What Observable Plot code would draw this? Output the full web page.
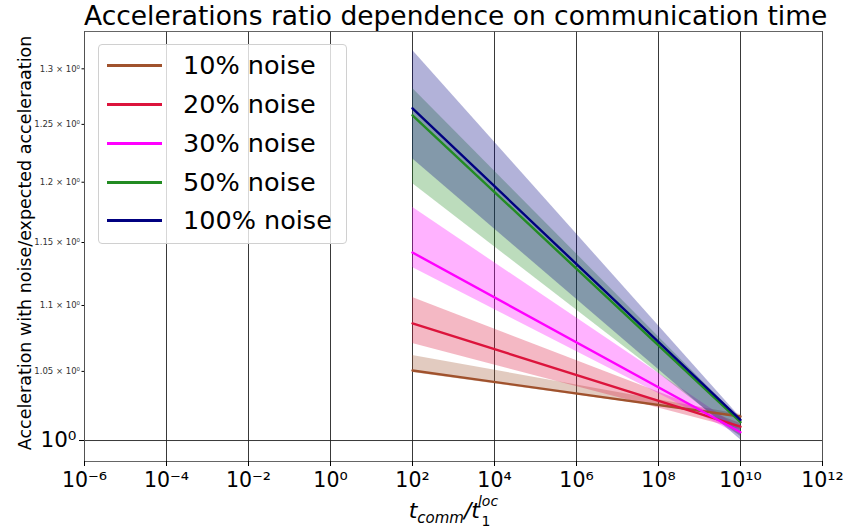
<!DOCTYPE html>
<html><head><meta charset="utf-8">
<script src="https://cdn.jsdelivr.net/npm/d3@7"></script>
<script src="https://cdn.jsdelivr.net/npm/@observablehq/plot@0.6"></script>
<style>
body{margin:0;background:#fff;font-family:"DejaVu Sans",sans-serif}
#wrap{position:relative;width:849px;height:529px;overflow:hidden}
#title{position:absolute;left:84px;width:738px;top:0;text-align:center;font-size:26.5px;line-height:32px;color:#000;white-space:nowrap}
#legend{position:absolute;left:98px;top:44px;width:249px;height:200px;border:1px solid #d0d0d0;border-radius:4px;background:rgba(255,255,255,0.8);box-sizing:border-box}
.lrow{position:absolute;left:0;height:30px}
.lline{position:absolute;left:8px;top:14px;width:55px;height:2.6px}
.ltext{position:absolute;left:84px;top:0;font-size:25.5px;line-height:30px;white-space:nowrap;color:#000}
</style>
</head><body><div id="wrap"><div id="chart"></div><div id="title"></div><div id="legend"></div></div>
<script>
const noiseLevels = ["10% noise", "20% noise", "30% noise", "50% noise", "100% noise"];
const lineColors = ["#a0522d", "#dc143c", "#ff00ff", "#228b22", "#000080"];
const commTimes = [1e2, 1e10];
const mean10 = [1.0507, 1.0171], low10 = [1.0492, 1.0164], high10 = [1.0619, 1.0185];
const mean20 = [1.0862, 1.0099], low20 = [1.0709, 1.0078], high20 = [1.1062, 1.0121];
const mean30 = [1.1419, 1.0059], low30 = [1.1298, 1.0035], high30 = [1.1789, 1.0085];
const mean50 = [1.2580, 1.0130], low50 = [1.1989, 1.0028], high50 = [1.2822, 1.0150];
const mean100 = [1.2642, 1.0147], low100 = [1.2201, 1.0005], high100 = [1.3171, 1.0164];
const xTicks = [1e-6, 1e-4, 1e-2, 1, 1e2, 1e4, 1e6, 1e8, 1e10, 1e12];
const yMinorTicks = [1.05, 1.1, 1.15, 1.2, 1.25, 1.3];
const yMajorTicks = [1];
const titleText = "Accelerations ratio dependence on communication time";
const yLabelText = "Acceleration with noise/expected acceleraation";

const means = [mean10, mean20, mean30, mean50, mean100];
const lows = [low10, low20, low30, low50, low100];
const highs = [high10, high20, high30, high50, high100];
const rows = [];
noiseLevels.forEach((n, i) => commTimes.forEach((t, j) => rows.push({noise: n, t, mean: means[i][j], low: lows[i][j], high: highs[i][j]})));

const supMap = {"-": "⁻", "0": "⁰", "1": "¹", "2": "²", "3": "³", "4": "⁴", "5": "⁵", "6": "⁶", "7": "⁷", "8": "⁸", "9": "⁹"};
const pow10 = d => "10" + String(Math.round(Math.log10(d))).split("").map(c => supMap[c]).join("");

const svg = Plot.plot({
  width: 849, height: 529,
  marginLeft: 84, marginRight: 27, marginTop: 31, marginBottom: 68,
  style: {fontFamily: "DejaVu Sans", background: "white", color: "#000", overflow: "visible"},
  x: {type: "log", domain: [1e-6, 1e12], label: null},
  y: {type: "log", domain: [0.9853, 1.3347], label: null},
  color: {domain: noiseLevels, range: lineColors},
  marks: [
    Plot.ruleX(xTicks, {stroke: "#222", strokeWidth: 0.9}),
    Plot.ruleY(yMajorTicks, {stroke: "#222", strokeWidth: 0.9}),
    Plot.areaY(rows, {x: "t", y1: "low", y2: "high", z: "noise", fill: "noise", fillOpacity: 0.3}),
    Plot.line(rows, {x: "t", y: "mean", z: "noise", stroke: "noise", strokeWidth: 2.4}),
    Plot.frame({stroke: "#555", strokeWidth: 0.9}),
    Plot.axisX(xTicks, {tickFormat: pow10, fontSize: 20.5, tickSize: 5, tickPadding: 6, label: null}),
    Plot.axisY(yMajorTicks, {tickFormat: () => "10⁰", fontSize: 21.5, tickSize: 5, tickPadding: 3, label: null}),
    Plot.axisY(yMinorTicks, {tickFormat: d => `${d} × 10⁰`, fontSize: 8.5, tickSize: 2.5, tickPadding: 2, label: null, fill: "#333"})
  ]
});
document.getElementById("chart").appendChild(svg);

const s = d3.select(svg);
s.append("text")
  .attr("transform", "translate(31,243) rotate(-90)")
  .attr("text-anchor", "middle")
  .attr("font-size", 17.5)
  .attr("fill", "#000")
  .text(yLabelText);

const xl = s.append("text").attr("x", 480).attr("y", 518).attr("text-anchor", "end")
  .attr("font-size", 22).attr("fill", "#000").attr("font-style", "italic");
xl.append("tspan").text("t");
xl.append("tspan").attr("font-size", 15).attr("dy", 5).text("comm");
xl.append("tspan").attr("dy", -5).text("/t");
s.append("text").attr("x", 486).attr("y", 526).attr("font-size", 14).attr("fill", "#000").text("1");
s.append("text").attr("x", 488).attr("y", 506).attr("font-size", 14).attr("font-style", "italic").attr("fill", "#000").text("loc");

document.getElementById("title").textContent = titleText;
const leg = document.getElementById("legend");
const rowTops = [5, 44, 83, 122, 160];
noiseLevels.forEach((n, i) => {
  const r = document.createElement("div");
  r.className = "lrow"; r.style.top = rowTops[i] + "px"; r.style.width = "246px";
  r.innerHTML = `<div class="lline" style="background:${lineColors[i]}"></div><div class="ltext">${n}</div>`;
  leg.appendChild(r);
});
</script>
</body></html>
